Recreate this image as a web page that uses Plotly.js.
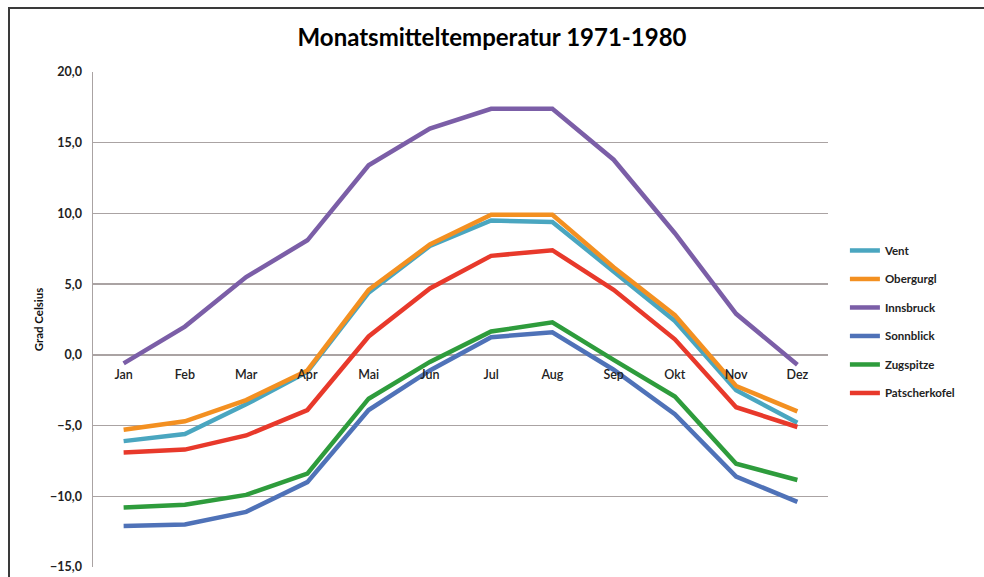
<!DOCTYPE html>
<html>
<head>
<meta charset="utf-8">
<script src="https://cdn.plot.ly/plotly-3.0.1.min.js"></script>
<style>
html,body{margin:0;padding:0;background:#fff;overflow:hidden;}
#chart{width:984px;height:577px;position:absolute;left:0;top:0;}
#frame{position:absolute;left:8px;top:7px;width:990px;height:600px;border-left:2px solid #3a3a3a;border-top:2px solid #3a3a3a;pointer-events:none;}
</style>
</head>
<body>
<div id="chart"></div>
<div id="frame"></div>
<script>
const months = ["Jan","Feb","Mar","Apr","Mai","Jun","Jul","Aug","Sep","Okt","Nov","Dez"];
const vent          = [-6.1, -5.6, -3.5, -1.2, 4.4, 7.7, 9.5, 9.4, 5.9, 2.4, -2.5, -4.8];
const obergurgl     = [-5.3, -4.7, -3.2, -1.1, 4.6, 7.8, 9.9, 9.9, 6.2, 2.8, -2.2, -4.0];
const innsbruck     = [-0.6, 2.0, 5.5, 8.1, 13.4, 16.0, 17.4, 17.4, 13.8, 8.6, 2.9, -0.7];
const sonnblick     = [-12.1, -12.0, -11.1, -9.0, -3.9, -1.1, 1.25, 1.6, -1.05, -4.2, -8.6, -10.4];
const zugspitze     = [-10.8, -10.6, -9.9, -8.4, -3.1, -0.5, 1.65, 2.3, -0.35, -2.95, -7.7, -8.85];
const patscherkofel = [-6.9, -6.7, -5.7, -3.9, 1.3, 4.7, 7.0, 7.4, 4.6, 1.1, -3.7, -5.1];
const yTicks = [-15, -10, -5, 0, 5, 10, 15, 20];

const series = [
  {name: "Vent", y: vent, color: "#4aa6c0"},
  {name: "Obergurgl", y: obergurgl, color: "#f39021"},
  {name: "Innsbruck", y: innsbruck, color: "#7b5ea7"},
  {name: "Sonnblick", y: sonnblick, color: "#4f72b8"},
  {name: "Zugspitze", y: zugspitze, color: "#2e9c3c"},
  {name: "Patscherkofel", y: patscherkofel, color: "#e8392b"}
];
const traces = series.map((s, i) => ({
  type: "scatter", mode: "lines", name: s.name, x: months, y: s.y,
  legendgroup: "g" + i, legendrank: i,
  line: {color: s.color, width: 4.5}
}));

const FONT = "Lato, 'Open Sans', sans-serif";
const layout = {
  width: 984, height: 577,
  paper_bgcolor: "#ffffff", plot_bgcolor: "#ffffff",
  margin: {l: 93, r: 156, t: 72, b: 10},
  separators: ",.",
  title: {text: "Monatsmitteltemperatur 1971-1980", x: 0.5, xanchor: "center", y: 0.935, yanchor: "middle",
          font: {family: FONT, size: 24, color: "#000", weight: "bold"}},
  xaxis: {type: "category", range: [-0.5, 11.5], anchor: "free", position: 15/35,
          showgrid: false, zeroline: false, showline: false, ticks: "", ticklabelstandoff: 11,
          tickfont: {family: FONT, size: 12.5, color: "#222", weight: 600}, fixedrange: true},
  yaxis: {range: [-15, 20], tickvals: yTicks, tickformat: ".1f", showgrid: true, gridcolor: "#aaa3a3", gridwidth: 1.5,
          zeroline: false, showline: true, linecolor: "#aaa3a3", linewidth: 1.5, ticks: "", ticklabelstandoff: 7,
          tickfont: {family: FONT, size: 12.5, color: "#222", weight: "bold"},
          title: {text: "Grad Celsius", standoff: 4, font: {family: FONT, size: 11.5, color: "#111", weight: "bold"}}},
  legend: {x: 1.023, y: 0.495, xanchor: "left", yanchor: "middle", traceorder: "grouped", tracegroupgap: 9.5,
           font: {family: FONT, size: 11.5, color: "#222", weight: "bold"},
           bgcolor: "rgba(0,0,0,0)", itemwidth: 30},
  showlegend: true
};
Plotly.newPlot("chart", traces, layout, {staticPlot: true, displayModeBar: false});
</script>
</body>
</html>
